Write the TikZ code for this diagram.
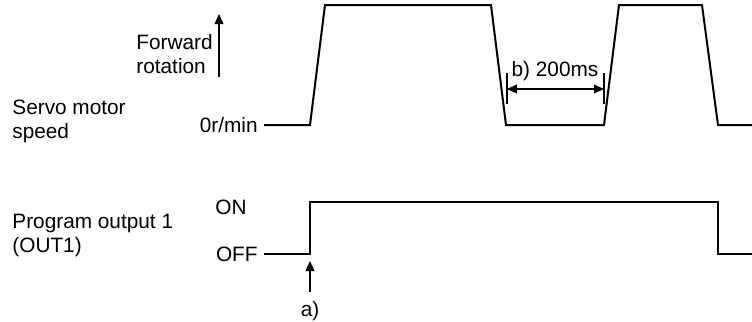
\documentclass[tikz,border=0pt]{standalone}
\usepackage{fontspec}
\setmainfont{Liberation Sans}
\usetikzlibrary{arrows.meta,positioning}

\begin{document}
\begin{tikzpicture}[x=0.5pt,y=-0.5pt,font=\fontsize{10.4}{12}\selectfont,
  every node/.style={inner sep=0pt}]
  \tikzset{
    sigline/.style={line width=1pt,line join=miter},
    sigtext/.style={align=left,anchor=west},
    leveltext/.style={anchor=east},
    pointer/.style={-{Triangle[length=5pt,width=4.4pt]},line width=0.6pt},
    dimline/.style={{Triangle[length=5pt,width=4.4pt]}-{Triangle[length=5pt,width=4.4pt]},
      line width=0.6pt},
    tickline/.style={line width=0.6pt}
  }
  \useasboundingbox (0,0) rectangle (752,322);

  % Servo motor speed
  \node[sigtext] (speed) at (12,121) {Servo motor\\speed};
  \node[leveltext] (zero) at (258,125) {0r/min};
  \node[sigtext] (fwd) at (136,54) {Forward\\rotation};
  \coordinate (fwd-tail) at (219,77);
  \coordinate (fwd-tip) at (219,14);
  \draw[pointer] (fwd-tail) -- (fwd-tip);
  \draw[sigline] (264,125) -- (310,125) -- (325,5) -- (491,5) -- (506,125)
    -- (604,125) -- (619,5) -- (702,5) -- (718,125) -- (752,125);

  % b) 200ms
  \coordinate (b-left) at (507,89);
  \coordinate (b-right) at (604,89);
  \draw[tickline] (507,73) -- (507,104);
  \draw[tickline] (604,73) -- (604,104);
  \draw[dimline] (b-left) -- (b-right);
  \node (b-label) at (555,71) {b) 200ms};

  % Program output 1
  \node[sigtext] (out) at (12,235) {Program output 1\\(OUT1)};
  \node[sigtext] (on) at (215,207) {ON};
  \node[leveltext] (off) at (258,254) {OFF};
  \draw[sigline] (264,254) -- (310,254) -- (310,202) -- (718,202)
    -- (718,254) -- (752,254);

  % a)
  \node (a-label) at (310,311) {a)};
  \coordinate (a-tail) at (310,292);
  \coordinate (a-tip) at (310,261);
  \draw[pointer] (a-tail) -- (a-tip);
\end{tikzpicture}
\end{document}
